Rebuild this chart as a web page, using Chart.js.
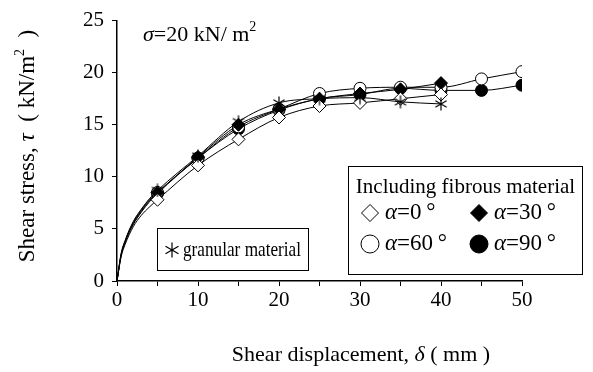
<!DOCTYPE html>
<html>
<head>
<meta charset="utf-8">
<script src="https://cdn.jsdelivr.net/npm/chart.js@4.4.1/dist/chart.umd.min.js"></script>
<style>
    html, body { margin: 0; padding: 0; background: #fff; }
    #wrap { width: 593px; height: 372px; }
</style>
</head>
<body>
<div id="wrap"><canvas id="chart"></canvas></div>
<script>
// Shear displacement (mm) and shear stress (kN/m2)
const displacement = [0, 0.5, 1, 2, 3, 4, 5, 10, 15, 20, 25, 30, 35, 40, 45, 50];
const granular = [0, 2.6, 3.9, 5.7, 6.9, 7.9, 8.7, 12.0, 15.3, 17.1, 17.5, 17.6, 17.2, 17.0];
const alpha0   = [0, 2.3, 3.5, 5.2, 6.3, 7.1, 7.8, 11.1, 13.6, 15.7, 16.8, 17.1, 17.5, 17.9];
const alpha30  = [0, 2.5, 3.8, 5.6, 6.8, 7.8, 8.5, 11.9, 15.0, 16.5, 17.5, 18.0, 18.4, 19.0];
const alpha60  = [0, 2.5, 3.8, 5.5, 6.7, 7.7, 8.5, 11.8, 14.8, 16.5, 18.0, 18.5, 18.6, 18.6, 19.4, 20.1];
const alpha90  = [0, 2.4, 3.7, 5.4, 6.6, 7.6, 8.4, 11.8, 14.6, 16.4, 17.5, 17.9, 18.5, 18.3, 18.3, 18.8];
const xTicks = [0, 10, 20, 30, 40, 50];
const xMinorTicks = [0, 5, 10, 15, 20, 25, 30, 35, 40, 45, 50];

const SERIF = '"Liberation Serif", "Times New Roman", serif';

// asterisk marker (6 arms) like the one in the figure
function makeStar(size) {
    const c = document.createElement('canvas');
    c.width = size; c.height = size;
    const g = c.getContext('2d');
    const m = size / 2, r = size / 2 - 0.5;
    g.strokeStyle = '#000';
    g.lineWidth = 1.2;
    g.beginPath();
    [90, 30, -30].forEach(a => {
        const rad = a * Math.PI / 180;
        g.moveTo(m - r * Math.cos(rad), m - r * Math.sin(rad));
        g.lineTo(m + r * Math.cos(rad), m + r * Math.sin(rad));
    });
    g.stroke();
    return c;
}
const starImg = makeStar(14);
const starBig = makeStar(16);

function pts(ys) {
    return ys.map((y, i) => ({ x: displacement[i], y: y }));
}

function serie(label, ys, style, fill, radius) {
    return {
        label: label,
        data: pts(ys),
        borderColor: '#000',
        borderWidth: 1,
        backgroundColor: fill,
        pointStyle: style,
        pointBackgroundColor: fill,
        pointBorderColor: '#000',
        pointBorderWidth: 1,
        pointRadius: ctx => (ctx.raw && ctx.raw.x > 0 && ctx.raw.x % 5 === 0) ? radius : 0,
        cubicInterpolationMode: 'monotone',
        fill: false
    };
}

// text with italic / superscript parts
function setFont(ctx, p, size) {
    const fs = p[2] ? Math.round(size * 0.62) : size;
    ctx.font = (p[1] ? 'italic ' : '') + fs + 'px ' + SERIF;
}
function richWidth(ctx, parts, size) {
    let w = 0;
    parts.forEach(p => { setFont(ctx, p, size); w += ctx.measureText(p[0]).width; });
    return w;
}
function richText(ctx, parts, x, y, size) {
    parts.forEach(p => {
        setFont(ctx, p, size);
        ctx.fillText(p[0], x, p[2] ? y - size * 0.33 : y);
        x += ctx.measureText(p[0]).width;
    });
    return x;
}

function marker(ctx, style, fill, x, y, r) {
    ctx.save();
    ctx.fillStyle = fill;
    ctx.strokeStyle = '#000';
    ctx.lineWidth = 1;
    Chart.helpers.drawPoint(ctx, { pointStyle: style, radius: r, borderWidth: 1, rotation: 0 }, x, y);
    ctx.restore();
}

const xTitle = [['Shear displacement, ', false], ['δ', true], [' ( mm )', false]];
const yTitle = [['Shear stress, ', false], ['τ', true], ['  ( kN/m', false], ['2', false, true], ['  )', false]];

const annotations = {
    id: 'annotations',
    afterDraw(chart) {
        const ctx = chart.ctx;
        ctx.save();
        ctx.fillStyle = '#000';
        ctx.textBaseline = 'middle';
        ctx.textAlign = 'left';

        // axis titles
        let w = richWidth(ctx, xTitle, 22);
        richText(ctx, xTitle, 361 - w / 2, 355, 22);
        ctx.save();
        ctx.translate(28, 146);
        ctx.rotate(-Math.PI / 2);
        w = richWidth(ctx, yTitle, 23);
        richText(ctx, yTitle, -w / 2, 0, 23);
        ctx.restore();

        // normal stress note
        richText(ctx, [['σ', true], ['=20 kN/ m', false], ['2', false, true]], 143, 35, 22);

        // legend: granular material
        ctx.strokeStyle = '#000';
        ctx.lineWidth = 1;
        ctx.strokeRect(157.5, 228.5, 151, 42);
        ctx.drawImage(starBig, 164, 242);
        ctx.font = '21px ' + SERIF;
        ctx.fillText('granular material', 183, 250, 118);

        // legend: fibrous material
        ctx.strokeRect(348.5, 166.5, 234, 108);
        ctx.textAlign = 'center';
        ctx.font = '21px ' + SERIF;
        ctx.fillText('Including fibrous material', 465.5, 187, 224);
        ctx.textAlign = 'left';

        marker(ctx, 'rectRot', '#fff', 370, 213, 8.5);
        richText(ctx, [['α', true], ['=0\u2009°', false]], 385, 213, 23);
        marker(ctx, 'rectRot', '#000', 479, 213, 8.5);
        richText(ctx, [['α', true], ['=30\u2009°', false]], 494, 213, 23);
        marker(ctx, 'circle', '#fff', 370, 244, 9);
        richText(ctx, [['α', true], ['=60\u2009°', false]], 385, 244, 23);
        marker(ctx, 'circle', '#000', 479, 244, 9);
        richText(ctx, [['α', true], ['=90\u2009°', false]], 494, 244, 23);
        ctx.restore();
    }
};

new Chart(document.getElementById('chart'), {
    type: 'line',
    data: {
        datasets: [
            serie('granular material', granular, starImg, '#000', 7),
            serie('α=0°', alpha0, 'rectRot', '#fff', 6.5),
            serie('α=30°', alpha30, 'rectRot', '#000', 6.5),
            serie('α=60°', alpha60, 'circle', '#fff', 6),
            serie('α=90°', alpha90, 'circle', '#000', 6)
        ]
    },
    options: {
        responsive: true,
        maintainAspectRatio: false,
        animation: false,
        layout: { padding: { top: 18, right: 71, bottom: 0, left: 0 } },
        plugins: {
            legend: { display: false },
            tooltip: { enabled: false }
        },
        scales: {
            x: {
                type: 'linear',
                min: 0,
                max: 50,
                afterBuildTicks: s => { s.ticks = xMinorTicks.map(v => ({ value: v })); },
                afterFit: s => { s.height = 91; },
                ticks: {
                    color: '#000',
                    font: { family: SERIF, size: 21 },
                    padding: 2,
                    maxRotation: 0,
                    autoSkip: false,
                    callback: v => xTicks.includes(v) ? String(v) : ''
                },
                grid: { drawOnChartArea: false, drawTicks: true, tickLength: 5, color: '#000', lineWidth: 1 },
                border: { display: true, color: '#000', width: 1.5 },
                title: { display: false }
            },
            y: {
                min: 0,
                max: 25,
                ticks: {
                    stepSize: 5,
                    color: '#000',
                    font: { family: SERIF, size: 21 },
                    padding: 8
                },
                afterFit: s => { s.width = 117; },
                grid: { drawOnChartArea: false, drawTicks: true, tickLength: 5, color: '#000', lineWidth: 1 },
                border: { display: true, color: '#000', width: 1.5 },
                title: { display: false }
            }
        }
    },
    plugins: [annotations]
});
</script>
</body>
</html>
